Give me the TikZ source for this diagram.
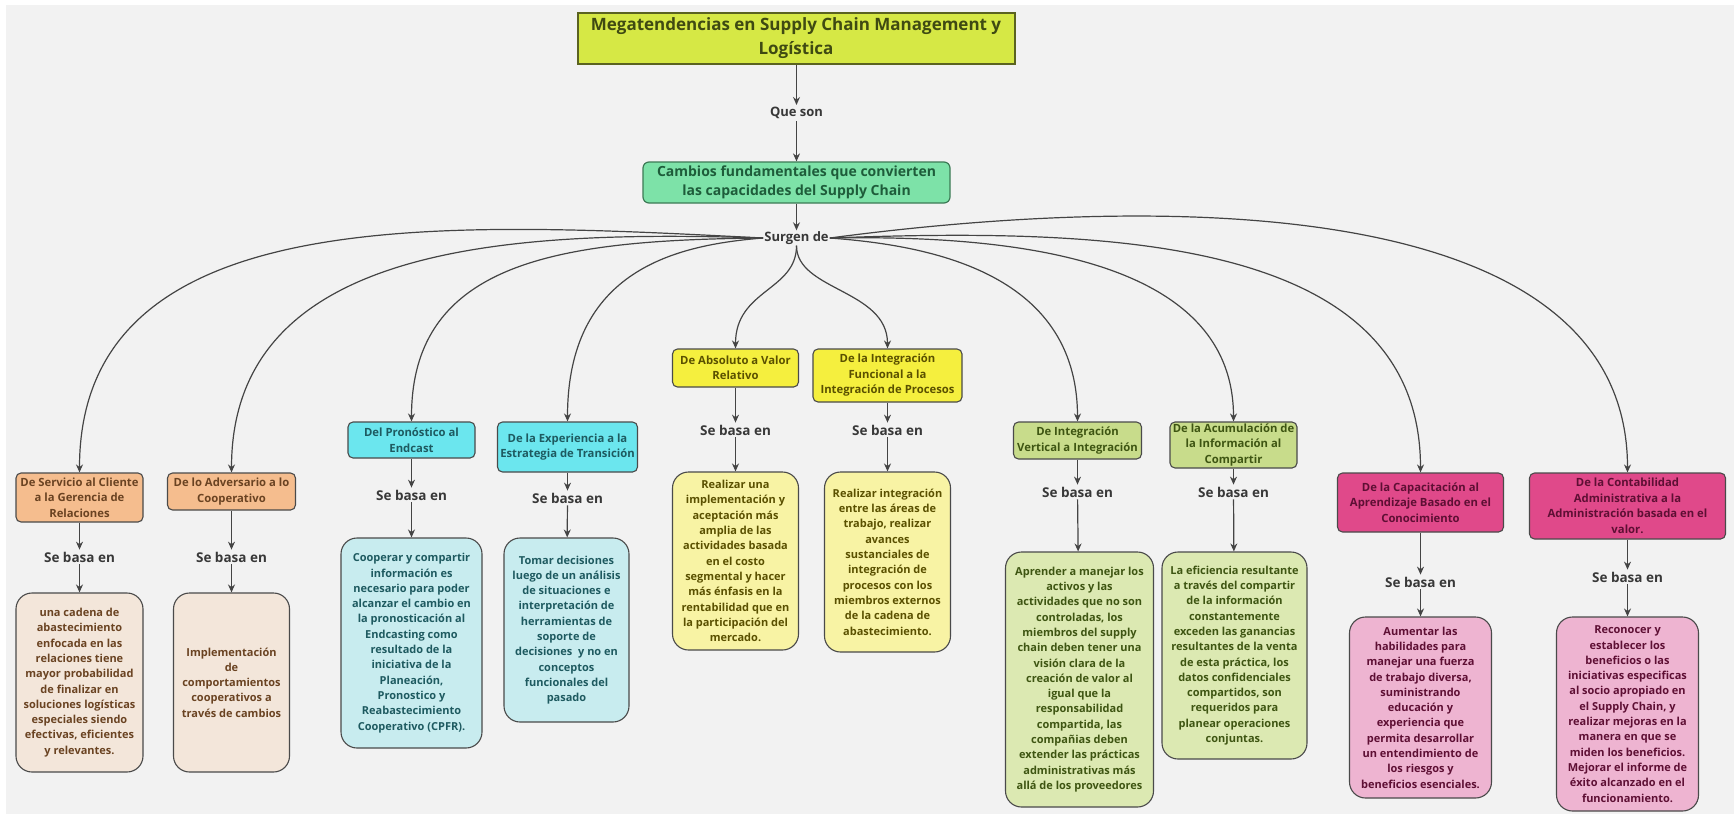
\documentclass[tikz,border=0pt]{standalone}
\usepackage{fontspec}
\setmainfont{Open Sans}
\usetikzlibrary{arrows.meta}

\definecolor{bgc}{HTML}{F2F2F2}
\definecolor{edgec}{HTML}{4A4A4A}
\definecolor{linec}{HTML}{444444}
\definecolor{lblc}{HTML}{383838}
\definecolor{titlefill}{HTML}{D6E845}
\definecolor{titledraw}{HTML}{5B6320}
\definecolor{titletext}{HTML}{3F4A12}
\definecolor{greenfill}{HTML}{7DE2A8}
\definecolor{greendraw}{HTML}{3C7A55}
\definecolor{greentext}{HTML}{1E5C3A}
\definecolor{orH}{HTML}{F5BD8E}
\definecolor{orD}{HTML}{F3E6DA}
\definecolor{orT}{HTML}{6A4322}
\definecolor{cyH}{HTML}{6BE6EE}
\definecolor{cyD}{HTML}{C8ECEF}
\definecolor{cyT}{HTML}{1E5A60}
\definecolor{yeH}{HTML}{F5EF3E}
\definecolor{yeD}{HTML}{F8F3A4}
\definecolor{yeT}{HTML}{5A5000}
\definecolor{gnH}{HTML}{C8DC8B}
\definecolor{gnD}{HTML}{DCE9B2}
\definecolor{gnT}{HTML}{3E5512}
\definecolor{pkH}{HTML}{E0498A}
\definecolor{pkD}{HTML}{EEB4D1}
\definecolor{pkT}{HTML}{5E0F34}

\begin{document}
\begin{tikzpicture}[x=1pt,y=-1pt,
  conn/.style={draw=linec, line width=1.2pt, -{Stealth[length=8pt,width=7pt]}},
  hdr/.style={draw=edgec, line width=1.1pt, rounded corners=5pt, align=center,
    inner sep=0pt, font=\fontsize{11.3}{15.5}\selectfont\bfseries},
  det/.style={draw=edgec, line width=1.1pt, rounded corners=16pt, align=center,
    inner sep=0pt, font=\fontsize{11}{15.3}\selectfont\bfseries},
  lbl/.style={font=\fontsize{13.5}{15}\selectfont\bfseries, text=lblc, inner sep=2pt},
  box/.style args={#1x#2}{minimum width=#1pt, minimum height=#2pt},
]
% page and canvas
\fill[white] (0,0) rectangle (1734,814);
\fill[bgc] (6,5) rectangle (1734,814);
\useasboundingbox (0,0) rectangle (1734,814);

% top of the map
\node[draw=titledraw, line width=2pt, fill=titlefill, text=titletext, align=center,
  inner sep=0pt, box=437x51, font=\fontsize{17}{24}\selectfont\bfseries]
  (title) at (796,38) {Megatendencias en Supply Chain Management y\\Logística};
\node[lbl, font=\fontsize{13}{15}\selectfont\bfseries] (queson) at (796.5,113) {Que son};
\node[draw=greendraw, line width=1.2pt, fill=greenfill, text=greentext, rounded corners=6pt,
  align=center, inner sep=0pt, box=307x41, font=\fontsize{14}{19}\selectfont\bfseries]
  (cambios) at (796.5,182.5) {Cambios fundamentales que convierten\\las capacidades del Supply Chain};
\node[lbl, font=\fontsize{13}{15}\selectfont\bfseries, inner sep=1pt] (surgen) at (796.5,238) {Surgen de};

\draw[conn] (title.south -| queson) -- (queson);
\draw[conn] (queson) -- (cambios);
\draw[conn] (cambios) -- (surgen);

% the ten changes
\node[hdr, fill=orH, text=orT, box=127x49] (h1) at (79.5,497.5)
  {De Servicio al Cliente\\a la Gerencia de\\Relaciones};
\node[hdr, fill=orH, text=orT, box=128x37] (h2) at (231.5,491.5)
  {De lo Adversario a lo\\Cooperativo};
\node[hdr, fill=cyH, text=cyT, box=127x36] (h3) at (411.5,440)
  {Del Pronóstico al\\Endcast};
\node[hdr, fill=cyH, text=cyT, box=140x50] (h4) at (567.5,447)
  {De la Experiencia a la\\Estrategia de Transición};
\node[hdr, fill=yeH, text=yeT, box=126x38] (h5) at (735.5,368)
  {De Absoluto a Valor\\Relativo};
\node[hdr, fill=yeH, text=yeT, box=149x53] (h6) at (887.5,375.5)
  {De la Integración\\Funcional a la\\Integración de Procesos};
\node[hdr, fill=gnH, text=gnT, box=128x37] (h7) at (1077.5,440.5)
  {De Integración\\Vertical a Integración};
\node[hdr, fill=gnH, text=gnT, box=127x46] (h8) at (1233.5,445)
  {De la Acumulación de\\la Información al\\Compartir};
\node[hdr, fill=pkH, text=pkT, box=166x59] (h9) at (1420.5,502.5)
  {De la Capacitación al\\Aprendizaje Basado en el\\Conocimiento};
\node[hdr, fill=pkH, text=pkT, box=196x66] (h10) at (1627.5,506)
  {De la Contabilidad\\Administrativa a la\\Administración basada en el\\valor.};

% "Se basa en" labels
\node[lbl] (s1) at (79.5,557) {Se basa en};
\node[lbl] (s2) at (231.5,557) {Se basa en};
\node[lbl] (s3) at (411.5,495) {Se basa en};
\node[lbl] (s4) at (567.5,498) {Se basa en};
\node[lbl] (s5) at (735.5,430) {Se basa en};
\node[lbl] (s6) at (887.5,430) {Se basa en};
\node[lbl] (s7) at (1077.5,492) {Se basa en};
\node[lbl] (s8) at (1233.5,492) {Se basa en};
\node[lbl] (s9) at (1420.5,582) {Se basa en};
\node[lbl] (s10) at (1627.5,577) {Se basa en};

% explanations
\node[det, fill=orD, text=orT, box=127x179] (d1) at (79.5,682.5)
  {una cadena de\\abastecimiento\\enfocada en las\\relaciones tiene\\mayor probabilidad\\de finalizar en\\soluciones logísticas\\especiales siendo\\efectivas, eficientes\\y relevantes.};
\node[det, fill=orD, text=orT, box=116x179] (d2) at (231.5,682.5)
  {Implementación\\de\\comportamientos\\cooperativos a\\través de cambios};
\node[det, fill=cyD, text=cyT, box=141x210] (d3) at (411.5,643)
  {Cooperar y compartir\\información es\\necesario para poder\\alcanzar el cambio en\\la pronosticación al\\Endcasting como\\resultado de la\\iniciativa de la\\Planeación,\\Pronostico y\\Reabastecimiento\\Cooperativo (CPFR).};
\node[det, fill=cyD, text=cyT, box=125x184] (d4) at (566.5,630)
  {Tomar decisiones\\luego de un análisis\\de situaciones e\\interpretación de\\herramientas de\\soporte de\\decisiones\ \ y no en\\conceptos\\funcionales del\\pasado};
\node[det, fill=yeD, text=yeT, box=126x178] (d5) at (735.5,561)
  {Realizar una\\implementación y\\aceptación más\\amplia de las\\actividades basada\\en el costo\\segmental y hacer\\más énfasis en la\\rentabilidad que en\\la participación del\\mercado.};
\node[det, fill=yeD, text=yeT, box=126x180] (d6) at (887.5,562)
  {Realizar integración\\entre las áreas de\\trabajo, realizar\\avances\\sustanciales de\\integración de\\procesos con los\\miembros externos\\de la cadena de\\abastecimiento.};
\node[det, fill=gnD, text=gnT, box=148x255] (d7) at (1079.5,679.5)
  {Aprender a manejar los\\activos y las\\actividades que no son\\controladas, los\\miembros del supply\\chain deben tener una\\visión clara de la\\creación de valor al\\igual que la\\responsabilidad\\compartida, las\\compañias deben\\extender las prácticas\\administrativas más\\allá de los proveedores};
\node[det, fill=gnD, text=gnT, box=145x207] (d8) at (1234.5,655.5)
  {La eficiencia resultante\\a través del compartir\\de la información\\constantemente\\exceden las ganancias\\resultantes de la venta\\de esta práctica, los\\datos confidenciales\\compartidos, son\\requeridos para\\planear operaciones\\conjuntas.};
\node[det, fill=pkD, text=pkT, box=142x181] (d9) at (1420.5,707.5)
  {Aumentar las\\habilidades para\\manejar una fuerza\\de trabajo diversa,\\suministrando\\educación y\\experiencia que\\permita desarrollar\\un entendimiento de\\los riesgos y\\beneficios esenciales.};
\node[det, fill=pkD, text=pkT, box=142x194] (d10) at (1627.5,714)
  {Reconocer y\\establecer los\\beneficios o las\\iniciativas especificas\\al socio apropiado en\\el Supply Chain, y\\realizar mejoras en la\\manera en que se\\miden los beneficios.\\Mejorar el informe de\\éxito alcanzado en el\\funcionamiento.};

% branches out of "Surgen de"
\draw[conn] (surgen.west) .. controls +(-317,-16) and +(0,-273) .. (h1.north);
\draw[conn] (surgen.west) .. controls +(-250,-8) and +(0,-230) .. (h2.north);
\draw[conn] (surgen.west) .. controls +(-200,2) and +(0,-162) .. (h3.north);
\draw[conn] (surgen.west) .. controls +(-87,7) and +(0,-152) .. (h4.north);
\draw[conn] (surgen.south) .. controls +(0,45) and +(0,-59) .. (h5.north);
\draw[conn] (surgen.south) .. controls +(0,45) and +(0,-59) .. (h6.north);
\draw[conn] (surgen.east) .. controls +(93,7) and +(0,-152) .. (h7.north);
\draw[conn] (surgen.east) .. controls +(173,-3) and +(0,-167) .. (h8.north);
\draw[conn] (surgen.east) .. controls +(273,-10) and +(0,-238) .. (h9.north);
\draw[conn] (surgen.east) .. controls +(323,-43) and +(0,-283) .. (h10.north);

% header -> label -> explanation
\foreach \i in {1,...,10}{
  \draw[conn] (h\i) -- (s\i);
  \draw[conn] (s\i) -- (d\i);
}
\end{tikzpicture}
\end{document}
